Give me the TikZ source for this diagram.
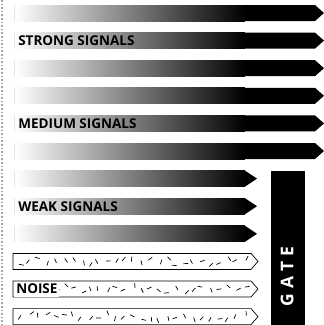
\documentclass[tikz,border=0pt]{standalone}
\usepackage{fontspec}
\setmainfont{Open Sans}
\usepackage{tikz}
\usetikzlibrary{calc}

\tikzset{lbl/.style={anchor=west,inner sep=0pt,font=\fontsize{13.5}{13.5}\selectfont\bfseries}}

\begin{document}
\begin{tikzpicture}[x=1pt,y=-1pt,line width=.6pt]
\useasboundingbox (0,0) rectangle (324,325);
\draw[gray!70,dotted,line width=1.6pt] (2,0)--(2,325);
% signal bars
\foreach \t in {5,32.6,60.2,87.8,115.4,143}{
  \fill[black] (15,\t)--(315,\t)--(324,\t+8)--(315,\t+16)--(15,\t+16)--cycle;
  \shade[left color=white,right color=black] (15,\t) rectangle (245,\t+16);}
\foreach \t in {170.6,198.2,225.8}{
  \fill[black] (15,\t)--(245,\t)--(257,\t+8)--(245,\t+16)--(15,\t+16)--cycle;
  \shade[left color=white,right color=black] (15,\t) rectangle (245,\t+16);}
% noise bars
\pgfmathsetseed{5}
\foreach \t in {253.4,281,308.6}{
  \draw[fill=white,line width=.7pt] (13,\t)--(251,\t)--(258,\t+8)--(251,\t+16)--(13,\t+16)--cycle;
  \foreach \i in {0,...,26}{
    \pgfmathsetmacro{\px}{19+\i*8.6+rnd*5}\pgfmathsetmacro{\py}{\t+4+rnd*8}
    \pgfmathsetmacro{\pa}{rnd*180}
    \draw[line width=.7pt] ($(\px,\py)+(\pa:2.4)$)--($(\px,\py)+(\pa+180:2.4)$);}}
\node[lbl] (strong) at (18,40.6) {STRONG SIGNALS};
\node[lbl] (medium) at (18,123.4) {MEDIUM SIGNALS};
\node[lbl] (weak) at (18,206.2) {WEAK SIGNALS};
\node[lbl,fill=white,inner xsep=2pt,minimum height=15pt] (noise) at (14,289) {NOISE};
% gate
\node[fill=black,anchor=north west,minimum width=34pt,minimum height=154pt,inner sep=0pt] (gate) at (271,171) {};
\node[rotate=90,text=white,font=\fontsize{17.5}{17.5}\selectfont\bfseries] (gatetxt) at (287,276.5)
  {G\hspace{5pt}A\hspace{5pt}T\hspace{5pt}E};
\end{tikzpicture}
\end{document}
